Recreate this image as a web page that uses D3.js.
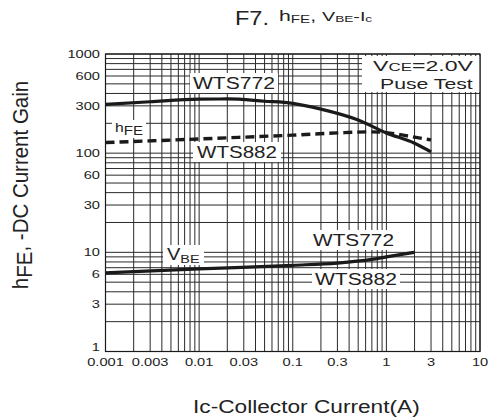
<!DOCTYPE html>
<html>
<head>
<meta charset="utf-8">
<script src="https://cdn.jsdelivr.net/npm/d3@7"></script>
<style>
  body { margin: 0; background: #fff; }
  text { font-family: "Liberation Sans", Arial, sans-serif; fill: #222; }
</style>
</head>
<body>
<div id="chart"></div>
<script>
// axis ticks
const xTicks = [0.001, 0.003, 0.01, 0.03, 0.1, 0.3, 1, 3, 10];
const xTickLabels = ["0.001", "0.003", "0.01", "0.03", "0.1", "0.3", "1", "3", "10"];
const yTicks = [1, 3, 6, 10, 30, 60, 100, 300, 600, 1000];
const yTickLabels = ["1", "3", "6", "10", "30", "60", "100", "300", "600", "1000"];

// hFE of WTS772 (solid)
const ic772 = [0.001, 0.003, 0.01, 0.02, 0.05, 0.1, 0.2, 0.5, 1, 2, 3];
const hfe772 = [310, 330, 350, 352, 334, 318, 278, 216, 160, 126, 103];

// hFE of WTS882 (dashed)
const ic882 = [0.001, 0.003, 0.01, 0.03, 0.1, 0.3, 0.7, 1, 2, 3];
const hfe882 = [128, 133, 139, 145, 152, 160, 164, 161, 145, 136];

// VBE (solid)
const icVbe = [0.001, 0.01, 0.1, 0.3, 0.7, 1, 2];
const vbe = [6.2, 6.8, 7.4, 7.8, 8.5, 9.0, 10];

const width = 490;
const height = 420;
const margin = { top: 54, right: 10, bottom: 68.5, left: 105.5 };

const svg = d3.select("#chart")
    .append("svg")
    .attr("width", width)
    .attr("height", height);

const x = d3.scaleLog()
    .domain([0.001, 10])
    .range([margin.left, width - margin.right]);

const y = d3.scaleLog()
    .domain([1, 1000])
    .range([height - margin.bottom, margin.top]);

// grid
svg.append("g")
    .selectAll("line")
    .data(x.ticks())
    .enter().append("line")
    .attr("x1", d => x(d)).attr("x2", d => x(d))
    .attr("y1", y(1000)).attr("y2", y(1))
    .attr("stroke", "#2a2a2a")
    .attr("stroke-width", 1);

svg.append("g")
    .selectAll("line")
    .data(y.ticks())
    .enter().append("line")
    .attr("y1", d => y(d)).attr("y2", d => y(d))
    .attr("x1", x(0.001)).attr("x2", x(10))
    .attr("stroke", "#2a2a2a")
    .attr("stroke-width", 1);

// text stretched to a measured width
function fitLabel(parent, parts, left, base, w) {
    const g = parent.append("g");
    const t = g.append("text");
    parts.forEach(p => {
        t.append("tspan")
            .attr("font-size", p.size)
            .attr("dy", p.dy || 0)
            .text(p.t);
    });
    const box = t.node().getBBox();
    const sx = w / box.width;
    g.attr("transform", `translate(${left - box.x * sx},${base}) scale(${sx},1)`);
    return { left: left, right: left + w, top: base + box.y, bottom: base + box.y + box.height, g: g };
}

const boxLayer = svg.append("g");
const labelLayer = svg.append("g");
const curveLayer = svg.append("g");

function boxed(parts, left, base, w, padX) {
    const b = fitLabel(labelLayer, parts, left, base, w);
    boxLayer.append("rect")
        .attr("x", b.left - padX)
        .attr("y", b.top - 1)
        .attr("width", b.right - b.left + 2 * padX)
        .attr("height", b.bottom - b.top + 1)
        .attr("fill", "#fff");
    return b;
}

boxed([{ t: "WTS772", size: 17 }], 193, 89, 82, 3);
boxed([{ t: "WTS882", size: 17 }], 197, 158, 80, 4);
boxed([{ t: "h", size: 12.5 }, { t: "FE", size: 12, dy: 3 }], 115, 132, 28, 3);
boxed([{ t: "V", size: 16 }, { t: "BE", size: 11.5, dy: 3 }], 167, 260, 33, 4);
boxed([{ t: "WTS772", size: 17 }], 313, 246, 81, 3);
boxed([{ t: "WTS882", size: 17 }], 315, 285, 82, 3);

// test condition box
const c1 = fitLabel(labelLayer, [{ t: "V", size: 15 }, { t: "CE", size: 11 }, { t: "=2.0V", size: 15 }], 373, 71, 100);
const c2 = fitLabel(labelLayer, [{ t: "Puse Test", size: 15 }], 380, 89, 94);
boxLayer.append("rect")
    .attr("x", 362)
    .attr("y", c1.top - 1)
    .attr("width", x(10) - 362)
    .attr("height", c2.bottom - c1.top + 1)
    .attr("fill", "#fff");

// curves
const line = d3.line()
    .x(d => x(d[0]))
    .y(d => y(d[1]))
    .curve(d3.curveMonotoneX);

curveLayer.append("path")
    .datum(ic772.map((d, i) => [d, hfe772[i]]))
    .attr("d", line)
    .attr("fill", "none")
    .attr("stroke", "#1a1a1a")
    .attr("stroke-width", 3.2);

curveLayer.append("path")
    .datum(ic882.map((d, i) => [d, hfe882[i]]))
    .attr("d", line)
    .attr("fill", "none")
    .attr("stroke", "#1a1a1a")
    .attr("stroke-width", 3.4)
    .attr("stroke-dasharray", "9,5");

curveLayer.append("path")
    .datum(icVbe.map((d, i) => [d, vbe[i]]))
    .attr("d", line)
    .attr("fill", "none")
    .attr("stroke", "#1a1a1a")
    .attr("stroke-width", 3.2);

// frame
svg.append("rect")
    .attr("x", x(0.001))
    .attr("y", y(1000))
    .attr("width", x(10) - x(0.001))
    .attr("height", y(1) - y(1000))
    .attr("fill", "none")
    .attr("stroke", "#1a1a1a")
    .attr("stroke-width", 1.2);

// tick labels
const sxTick = 1.33;
svg.append("g")
    .selectAll("text")
    .data(xTicks)
    .enter().append("text")
    .attr("transform", d => `translate(${x(d)},366) scale(${sxTick},1)`)
    .attr("text-anchor", "middle")
    .attr("font-size", 11)
    .text((d, i) => xTickLabels[i]);

// the bottom "1" sits a little higher so it clears "0.001"
svg.append("g")
    .selectAll("text")
    .data(yTicks)
    .enter().append("text")
    .attr("transform", d => `translate(100,${y(d) - (d === 1 ? 4 : 0)}) scale(${sxTick},1)`)
    .attr("text-anchor", "end")
    .attr("dy", "0.35em")
    .attr("font-size", 11)
    .text((d, i) => yTickLabels[i]);

// title
fitLabel(svg, [{ t: "F7.", size: 21 }], 235, 25, 34);
fitLabel(svg, [
    { t: "h", size: 14 }, { t: "FE", size: 10, dy: 1.5 }, { t: ",  ", size: 14, dy: -1.5 },
    { t: "V", size: 13 }, { t: "BE", size: 9, dy: 1 }, { t: "-I", size: 13, dy: -1 },
    { t: "c", size: 9, dy: 1 }
], 279, 21, 94);

// axis titles
fitLabel(svg, [{ t: "Ic-Collector Current(A)", size: 19 }], 193, 413, 227);

const yTitle = svg.append("text")
    .attr("transform", "translate(28,185) scale(1.1,1) rotate(-90)")
    .attr("text-anchor", "middle")
    .attr("font-size", 20.5);
yTitle.append("tspan").text("h");
yTitle.append("tspan").attr("dy", 4).text("FE");
yTitle.append("tspan").attr("dy", -4).text(", -DC Current Gain");
</script>
</body>
</html>
